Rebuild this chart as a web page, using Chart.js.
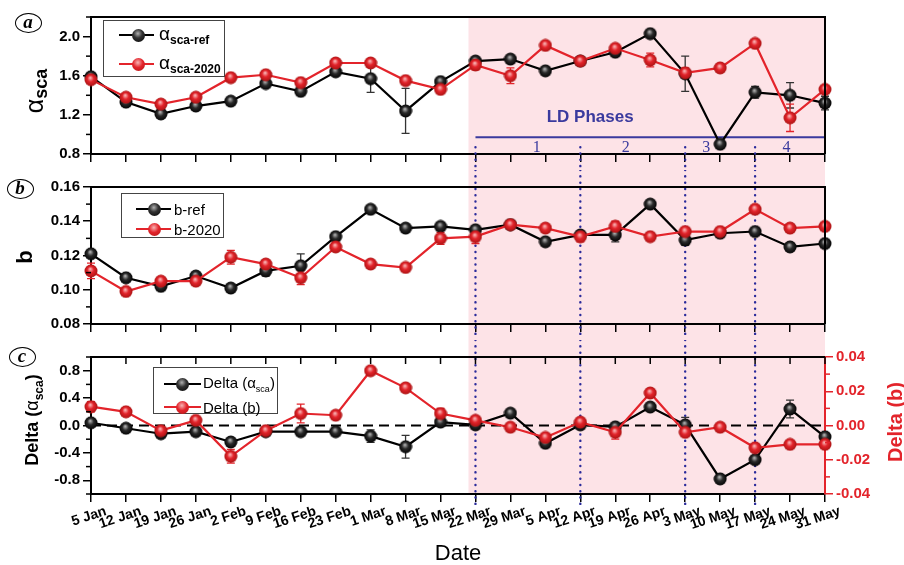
<!DOCTYPE html>
<html>
<head>
<meta charset="utf-8">
<title>alpha sca y b</title>
<script src="https://cdn.jsdelivr.net/npm/chart.js@4.4.1/dist/chart.umd.min.js"></script>
<style>
  html, body { margin: 0; padding: 0; background: #fff; }
  #lienzo { position: relative; width: 904px; height: 565px; overflow: hidden; font-family: 'Liberation Sans', Arial, sans-serif; }
  #lienzo canvas { position: absolute; left: 0; }
  .leyenda { position: absolute; box-sizing: border-box; border: 1px solid #444; }
  .item { position: absolute; left: 0; height: 0; white-space: nowrap; }
  .linea { position: absolute; height: 2px; top: -1px; }
  .bola { position: absolute; width: 13px; height: 13px; top: -6.5px; margin-left: -6.5px; border-radius: 50%; }
  .negra { background: radial-gradient(circle at 45% 35%, #b0b0b0 0, #333 40%, #000 100%); }
  .roja { background: radial-gradient(circle at 45% 35%, #f8b4b4 0, #e3242b 45%, #b01515 100%); }
  .texto { position: absolute; top: 0; transform: translateY(-50%); color: #000; line-height: 1; }
  .giro { position: absolute; width: 0; height: 0; }
  .giro > span { position: absolute; left: 0; top: 0; white-space: nowrap; line-height: 1; transform: translate(-50%, -50%) rotate(-90deg); font-weight: bold; }
  .panel { position: absolute; box-sizing: border-box; width: 27px; height: 20px; margin: -10px 0 0 -13.5px; border: 1.5px solid #000; border-radius: 50%;
           font-family: 'Liberation Serif', 'Times New Roman', serif; font-style: italic; font-weight: bold; font-size: 19px; line-height: 16px; text-align: center; }
</style>
</head>
<body>
<div id="lienzo">
  <canvas id="grafA" width="904" height="170" style="top:0px"></canvas>
  <canvas id="grafB" width="904" height="170" style="top:170px"></canvas>
  <canvas id="grafC" width="904" height="225" style="top:340px"></canvas>

  <!-- leyendas -->
  <div class="leyenda" style="left:103px; top:20px; width:122px; height:57px">
    <div class="item" style="top:14px"><div class="linea" style="left:15px; width:35px; background:#000"></div><div class="bola negra" style="left:34px"></div>
      <div class="texto" style="left:55px"><span style="font-size:19px">α</span><sub style="font-size:12px; font-weight:bold">sca-ref</sub></div></div>
    <div class="item" style="top:43px"><div class="linea" style="left:15px; width:35px; background:#e3242b"></div><div class="bola roja" style="left:34px"></div>
      <div class="texto" style="left:55px"><span style="font-size:19px">α</span><sub style="font-size:12px; font-weight:bold">sca-2020</sub></div></div>
  </div>
  <div class="leyenda" style="left:121px; top:193px; width:103px; height:45px">
    <div class="item" style="top:15px"><div class="linea" style="left:14px; width:35px; background:#000"></div><div class="bola negra" style="left:32px"></div>
      <div class="texto" style="left:52px; font-size:15px">b-ref</div></div>
    <div class="item" style="top:35px"><div class="linea" style="left:14px; width:35px; background:#e3242b"></div><div class="bola roja" style="left:32px"></div>
      <div class="texto" style="left:52px; font-size:15px">b-2020</div></div>
  </div>
  <div class="leyenda" style="left:153px; top:367px; width:125px; height:47px">
    <div class="item" style="top:16px"><div class="linea" style="left:10px; width:37px; background:#000"></div><div class="bola negra" style="left:28px"></div>
      <div class="texto" style="left:49px; font-size:15px">Delta (α<sub style="font-size:9px">sca</sub>)</div></div>
    <div class="item" style="top:39px"><div class="linea" style="left:10px; width:37px; background:#e3242b"></div><div class="bola roja" style="left:28px"></div>
      <div class="texto" style="left:49px; font-size:15px">Delta (b)</div></div>
  </div>

  <!-- títulos de ejes -->
  <div class="giro" style="left:36px; top:91px"><span><span style="font-size:25px; font-weight:normal">α</span><sub style="font-size:18px">sca</sub></span></div>
  <div class="giro" style="left:25px; top:257px"><span style="font-size:22px">b</span></div>
  <div class="giro" style="left:34px; top:420px"><span style="font-size:18px">Delta (<span style="font-weight:normal">α</span><sub style="font-size:12px">sca</sub>)</span></div>
  <div class="giro" style="left:895px; top:422px"><span style="font-size:20px; color:#e3242b">Delta (b)</span></div>
  <div style="position:absolute; left:458px; top:553px; transform:translate(-50%,-50%); font-size:22px; line-height:1">Date</div>

  <!-- etiquetas de panel -->
  <div class="panel" style="left:28px; top:23px">a</div>
  <div class="panel" style="left:20px; top:189px">b</div>
  <div class="panel" style="left:22px; top:357px">c</div>
</div>

<script>
const fuente = "'Liberation Sans', Arial, sans-serif";
const rojo = '#e3242b';
const rosa = '#fde3e7';
const azul = '#3a3a9e';

// fechas (semanas)
const fechas = ['5 Jan', '12 Jan', '19 Jan', '26 Jan', '2 Feb', '9 Feb', '16 Feb', '23 Feb', '1 Mar', '8 Mar', '15 Mar',
  '22 Mar', '29 Mar', '5 Apr', '12 Apr', '19 Apr', '26 Apr', '3 May', '10 May', '17 May', '24 May', '31 May'];

// panel (a): alpha sca
const alfaRef = [1.59, 1.33, 1.21, 1.29, 1.34, 1.52, 1.44, 1.64, 1.57, 1.24, 1.54, 1.75, 1.77, 1.65, 1.75, 1.84, 2.03, 1.62, 0.90, 1.43, 1.40, 1.32];
const alfaRefErr = [0.02, 0.02, 0.02, 0.02, 0.02, 0.02, 0.02, 0.02, 0.14, 0.23, 0.02, 0.02, 0.02, 0.02, 0.02, 0.02, 0.02, 0.18, 0.03, 0.06, 0.13, 0.07];
const alfa2020 = [1.56, 1.38, 1.31, 1.38, 1.58, 1.61, 1.53, 1.73, 1.73, 1.55, 1.46, 1.71, 1.60, 1.91, 1.75, 1.88, 1.76, 1.63, 1.68, 1.93, 1.17, 1.46];
const alfa2020Err = [0.02, 0.02, 0.02, 0.02, 0.03, 0.02, 0.02, 0.02, 0.02, 0.02, 0.02, 0.05, 0.08, 0.02, 0.03, 0.02, 0.07, 0.05, 0.03, 0.02, 0.14, 0.03];

// panel (b): b
const bRef = [0.121, 0.107, 0.102, 0.108, 0.101, 0.111, 0.114, 0.131, 0.147, 0.136, 0.137, 0.135, 0.138, 0.128, 0.132, 0.132, 0.150, 0.129, 0.133, 0.134, 0.125, 0.127];
const bRefErr = [0.002, 0.002, 0.002, 0.002, 0.002, 0.003, 0.007, 0.002, 0.002, 0.002, 0.002, 0.002, 0.002, 0.002, 0.002, 0.004, 0.002, 0.003, 0.002, 0.002, 0.002, 0.002];
const b2020 = [0.111, 0.099, 0.105, 0.105, 0.119, 0.115, 0.107, 0.125, 0.115, 0.113, 0.130, 0.131, 0.138, 0.136, 0.131, 0.137, 0.131, 0.134, 0.134, 0.147, 0.136, 0.137];
const b2020Err = [0.0045, 0.002, 0.002, 0.002, 0.004, 0.002, 0.004, 0.002, 0.002, 0.002, 0.0035, 0.004, 0.002, 0.002, 0.003, 0.003, 0.002, 0.002, 0.002, 0.002, 0.002, 0.002];

// panel (c): diferencias
const deltaAlfa = [0.04, -0.04, -0.12, -0.09, -0.24, -0.09, -0.09, -0.09, -0.155, -0.31, 0.05, 0.01, 0.18, -0.26, 0.01, -0.02, 0.27, 0.01, -0.78, -0.50, 0.24, -0.165];
const deltaAlfaErr = [0.02, 0.02, 0.02, 0.02, 0.02, 0.02, 0.02, 0.02, 0.09, 0.165, 0.02, 0.02, 0.02, 0.02, 0.02, 0.02, 0.02, 0.11, 0.03, 0.03, 0.13, 0.03];
const deltaB = [0.011, 0.008, -0.003, 0.003, -0.018, -0.003, 0.007, 0.006, 0.032, 0.022, 0.007, 0.003, -0.001, -0.007, 0.002, -0.004, 0.019, -0.004, -0.001, -0.013, -0.011, -0.011];
const deltaBErr = [0.003, 0.0015, 0.0015, 0.0015, 0.004, 0.0015, 0.0055, 0.0015, 0.0015, 0.002, 0.003, 0.002, 0.0015, 0.0015, 0.0015, 0.004, 0.002, 0.0015, 0.0015, 0.0015, 0.0015, 0.0015];

// marcas de los ejes
const ticksAlfa = [0.8, 1.2, 1.6, 2.0];
const ticksB = [0.08, 0.10, 0.12, 0.14, 0.16];
const ticksDeltaAlfa = [-0.8, -0.4, 0.0, 0.4, 0.8];
const ticksDeltaB = [-0.04, -0.02, 0.00, 0.02, 0.04];

// fases del confinamiento (LD), en índices de fecha
const inicioRosa = 10.8;
const cortesFases = [11, 14, 17, 19];
const fases = ['1', '2', '3', '4'];
const centroFases = [12.75, 15.3, 17.6, 19.9];

// bolitas con brillo para los puntos
function bola(claro, medio, oscuro) {
  const c = document.createElement('canvas');
  c.width = 14; c.height = 14;
  const g = c.getContext('2d');
  const grad = g.createRadialGradient(6.2, 5, 0.3, 7, 7, 6.8);
  grad.addColorStop(0, claro);
  grad.addColorStop(0.45, medio);
  grad.addColorStop(1, oscuro);
  g.fillStyle = grad;
  g.beginPath(); g.arc(7, 7, 6.5, 0, Math.PI * 2); g.fill();
  return c;
}
const bolaNegra = bola('#b4b4b4', '#2a2a2a', '#000');
const bolaRoja = bola('#f9b8b8', rojo, '#a81212');

function serie(datos, errores, color, punto, orden, eje) {
  return {
    data: datos, errores: errores, colorError: color === rojo ? rojo : '#333',
    borderColor: color, borderWidth: 2.2, pointStyle: punto, pointRadius: 6.5,
    order: orden, yAxisID: eje || 'y', tension: 0
  };
}

function ejeX(conEtiquetas, alto) {
  return {
    type: 'category', offset: false,
    grid: { drawOnChartArea: false, drawTicks: true, tickLength: 8, color: '#000', lineWidth: 1.5 },
    border: { display: true, color: '#000', width: 2 },
    ticks: { display: conEtiquetas, autoSkip: false, minRotation: 18, maxRotation: 18, labelOffset: 15, padding: 1,
             color: '#000', font: { family: fuente, size: 14, weight: 'bold' } },
    afterFit: s => { s.height = alto; }
  };
}

function ejeY(min, max, marcas, decimales, color, lado, ancho) {
  return {
    position: lado, min: min, max: max,
    afterBuildTicks: s => { s.ticks = marcas.map(v => ({ value: v })); },
    grid: { drawOnChartArea: false, drawTicks: true, tickLength: 8, color: color, lineWidth: 1.5 },
    border: { display: true, color: color, width: 2 },
    ticks: { color: color, padding: 3, font: { family: fuente, size: 15, weight: 'bold' },
             callback: v => Number(v).toFixed(decimales) },
    afterFit: s => { s.width = ancho; }
  };
}

function menores(marcas) {
  const paso = marcas[1] - marcas[0];
  const res = marcas.map(v => v - paso / 2);
  res.push(marcas[marcas.length - 1] + paso / 2);
  return res;
}

function decorado(cfg) {
  return {
    id: 'decorado',
    beforeDraw(chart) {
      const { ctx, chartArea: ca, scales } = chart;
      const x0 = scales.x.getPixelForValue(inicioRosa);
      const y0 = cfg.rosaArriba ? ca.top : 0;
      const y1 = cfg.rosaAbajo ? ca.bottom : chart.height;
      ctx.save();
      ctx.fillStyle = rosa;
      ctx.fillRect(x0, y0, ca.right - x0, y1 - y0);
      ctx.restore();
    },
    beforeDatasetsDraw(chart) {
      const { ctx, chartArea: ca, scales } = chart;
      ctx.save();
      // fases LD (solo panel a)
      if (cfg.fasesLD) {
        const y = scales.y;
        ctx.strokeStyle = azul; ctx.lineWidth = 2;
        ctx.beginPath();
        ctx.moveTo(scales.x.getPixelForValue(cortesFases[0]), y.getPixelForValue(0.97));
        ctx.lineTo(ca.right, y.getPixelForValue(0.97));
        ctx.stroke();
        ctx.fillStyle = azul;
        ctx.textAlign = 'center'; ctx.textBaseline = 'middle';
        ctx.font = 'bold 17px ' + fuente;
        ctx.fillText('LD Phases', scales.x.getPixelForValue(14.28), y.getPixelForValue(1.18));
        ctx.font = "16px 'Liberation Serif', 'Times New Roman', serif";
        fases.forEach((f, i) => ctx.fillText(f, scales.x.getPixelForValue(centroFases[i]), y.getPixelForValue(0.86)));
      }
      // líneas punteadas entre fases
      const yIni = cfg.puntosDesde != null ? scales.y.getPixelForValue(cfg.puntosDesde) : 0;
      const yFin = cfg.puntosHasta != null ? cfg.puntosHasta : chart.height;
      ctx.strokeStyle = '#2b2b9b'; ctx.lineWidth = 2.4; ctx.lineCap = 'round';
      ctx.setLineDash([0.1, 6.2]);
      cortesFases.forEach(i => {
        const x = scales.x.getPixelForValue(i);
        ctx.beginPath(); ctx.moveTo(x, yIni); ctx.lineTo(x, yFin); ctx.stroke();
      });
      ctx.lineCap = 'butt';
      // línea de cero discontinua
      if (cfg.ceroDiscontinuo) {
        const y = scales.y.getPixelForValue(0);
        ctx.strokeStyle = '#000'; ctx.lineWidth = 2;
        ctx.setLineDash([10, 6]);
        ctx.beginPath(); ctx.moveTo(ca.left, y); ctx.lineTo(ca.right, y); ctx.stroke();
      }
      ctx.setLineDash([]);
      // barras de error
      chart.data.datasets.forEach((ds, i) => {
        if (!ds.errores) return;
        const meta = chart.getDatasetMeta(i);
        const ys = chart.scales[ds.yAxisID];
        ctx.strokeStyle = ds.colorError; ctx.lineWidth = 1.3;
        meta.data.forEach((p, j) => {
          const v = ds.data[j], e = ds.errores[j];
          const ya = ys.getPixelForValue(v + e), yb = ys.getPixelForValue(v - e);
          ctx.beginPath();
          ctx.moveTo(p.x, ya); ctx.lineTo(p.x, yb);
          ctx.moveTo(p.x - 4, ya); ctx.lineTo(p.x + 4, ya);
          ctx.moveTo(p.x - 4, yb); ctx.lineTo(p.x + 4, yb);
          ctx.stroke();
        });
      });
      ctx.restore();
    },
    afterDraw(chart) {
      const { ctx, chartArea: ca, scales } = chart;
      ctx.save();
      ctx.strokeStyle = '#000'; ctx.lineWidth = 2;
      ctx.beginPath();
      ctx.moveTo(ca.left, ca.top); ctx.lineTo(ca.right, ca.top);
      if (!cfg.ejeDerecho) ctx.lineTo(ca.right, ca.bottom);
      ctx.stroke();
      // marcas menores del eje izquierdo
      ctx.lineWidth = 1.5;
      menores(cfg.marcas).forEach(v => {
        if (v < scales.y.min - 1e-9 || v > scales.y.max + 1e-9) return;
        const y = scales.y.getPixelForValue(v);
        ctx.beginPath(); ctx.moveTo(ca.left, y); ctx.lineTo(ca.left - 5, y); ctx.stroke();
      });
      // marcas hacia dentro en el borde superior
      if (cfg.marcasArriba) {
        chart.data.labels.forEach((l, i) => {
          const x = scales.x.getPixelForValue(i);
          ctx.beginPath(); ctx.moveTo(x, ca.top); ctx.lineTo(x, ca.top + 7); ctx.stroke();
        });
      }
      // eje derecho rojo
      if (cfg.ejeDerecho) {
        const y2 = scales.y2;
        ctx.strokeStyle = rojo;
        menores(ticksDeltaB).forEach(v => {
          if (v < y2.min - 1e-9 || v > y2.max + 1e-9) return;
          const y = y2.getPixelForValue(v);
          ctx.beginPath(); ctx.moveTo(ca.right, y); ctx.lineTo(ca.right + 5, y); ctx.stroke();
        });
      }
      ctx.restore();
    }
  };
}

function opcionesBase(escalas) {
  return {
    responsive: false, animation: false, events: [],
    layout: { padding: { top: 17, right: escalas.y2 ? 0 : 79, left: 0, bottom: 0 } },
    plugins: { legend: { display: false }, tooltip: { enabled: false } },
    scales: escalas
  };
}

// panel (a)
new Chart(document.getElementById('grafA'), {
  type: 'line',
  data: {
    labels: fechas,
    datasets: [
      serie(alfaRef, alfaRefErr, '#000', bolaNegra, 2),
      serie(alfa2020, alfa2020Err, rojo, bolaRoja, 1)
    ]
  },
  options: opcionesBase({ x: ejeX(false, 16), y: ejeY(0.8, 2.2, ticksAlfa, 1, '#000', 'left', 91) }),
  plugins: [decorado({ rosaArriba: true, fasesLD: true, puntosDesde: 0.87, marcas: ticksAlfa })]
});

// panel (b)
new Chart(document.getElementById('grafB'), {
  type: 'line',
  data: {
    labels: fechas,
    datasets: [
      serie(bRef, bRefErr, '#000', bolaNegra, 2),
      serie(b2020, b2020Err, rojo, bolaRoja, 1)
    ]
  },
  options: opcionesBase({ x: ejeX(false, 16), y: ejeY(0.08, 0.16, ticksB, 2, '#000', 'left', 91) }),
  plugins: [decorado({ marcas: ticksB })]
});

// panel (c)
new Chart(document.getElementById('grafC'), {
  type: 'line',
  data: {
    labels: fechas,
    datasets: [
      serie(deltaAlfa, deltaAlfaErr, '#000', bolaNegra, 2, 'y'),
      serie(deltaB, deltaBErr, rojo, bolaRoja, 1, 'y2')
    ]
  },
  options: opcionesBase({
    x: ejeX(true, 71),
    y: ejeY(-1, 1, ticksDeltaAlfa, 1, '#000', 'left', 91),
    y2: ejeY(-0.04, 0.04, ticksDeltaB, 2, rojo, 'right', 79)
  }),
  plugins: [decorado({ rosaAbajo: true, puntosHasta: 168, ceroDiscontinuo: true, marcasArriba: true, ejeDerecho: true, marcas: ticksDeltaAlfa })]
});
</script>
</body>
</html>
